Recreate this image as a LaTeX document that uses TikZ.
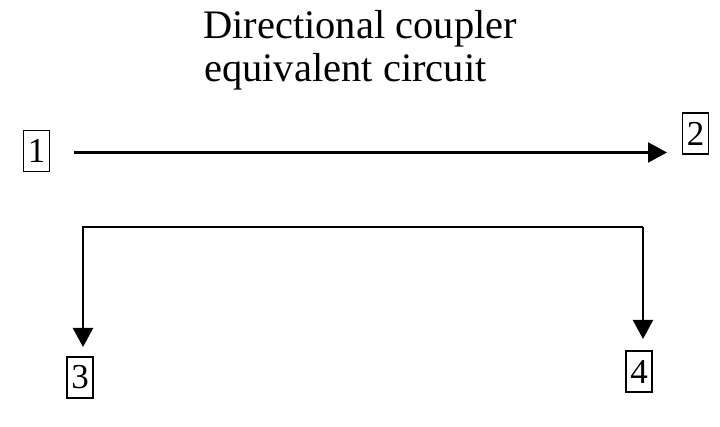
\documentclass[tikz,border=0pt]{standalone}
\usepackage{fontspec}
\setmainfont{Liberation Serif}
\usetikzlibrary{arrows.meta}
\begin{document}
\begin{tikzpicture}[x=1pt,y=-1pt,
  port/.style={draw,line width=1.5pt,inner sep=0pt,minimum width=26pt,minimum height=41pt,font=\fontsize{35}{37}\selectfont},
  arr/.style={line width=2.2pt,-{Triangle[length=19pt,width=20pt]}},
  ttl/.style={anchor=base west,inner sep=0pt,font=\fontsize{40.5}{43}\selectfont}]
\useasboundingbox (0,0) rectangle (720,427);
\node[ttl] (title1) at (203,39) {Directional coupler};
\node[ttl] (title2) at (204,82) {equivalent circuit};
\node[port] (n1) at (36.5,151) {1};
\node[port] (n2) at (695.5,133.5) {2};
\node[port] (n3) at (80,377.5) {3};
\node[port] (n4) at (639,371.5) {4};
\coordinate (s1) at (74,152.5);
\coordinate (e1) at (667,152.5);
\coordinate (c3) at (83,227);
\coordinate (c4) at (643,227);
\coordinate (t3) at (83,347);
\coordinate (t4) at (643,339);
\draw[arr] (s1) -- (e1);
\draw[arr] (c4) -- (c3) -- (t3);
\draw[arr] (c4) -- (t4);
\end{tikzpicture}
\end{document}
